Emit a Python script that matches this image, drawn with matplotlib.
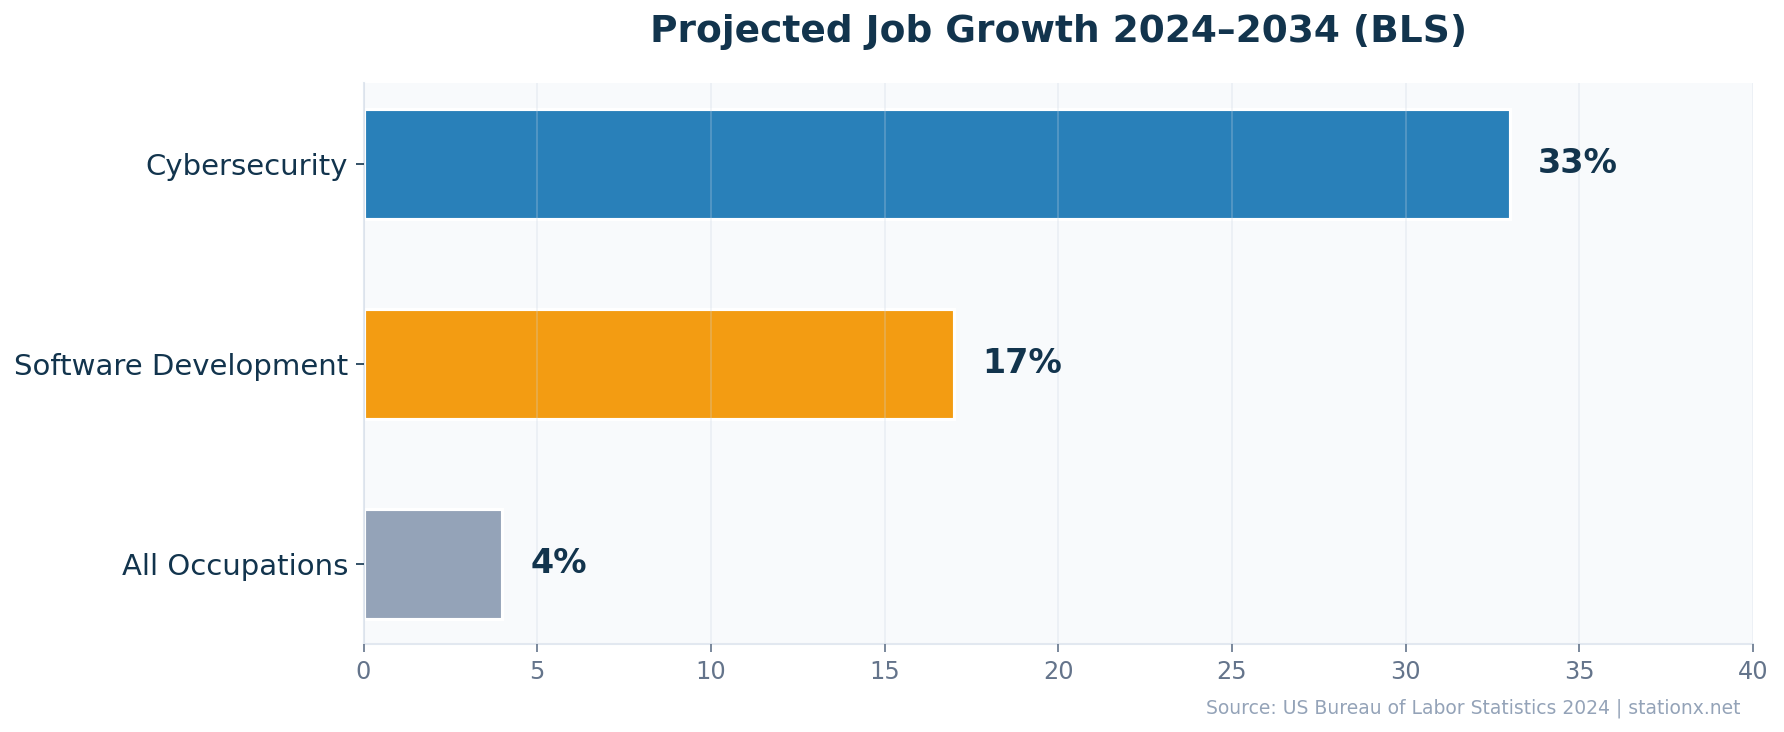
import matplotlib
matplotlib.use("Agg")
import matplotlib.pyplot as plt

categories = ["Cybersecurity", "Software Development", "All Occupations"]
growth = [33, 17, 4]
bar_colors = ["#2980b9", "#f39c12", "#94a3b8"]
value_labels = ["33%", "17%", "4%"]
x_ticks = [0, 5, 10, 15, 20, 25, 30, 35, 40]

plt.rcParams['font.family'] = ['DejaVu Sans']

fig = plt.figure(figsize=(1784/150, 732/150), dpi=150)
ax = fig.add_axes([363.5/1784, 1-644/732, (1753-363.5)/1784, (644-83.3)/732])
ax.set_facecolor("#f8fafc")

ypos = list(range(len(categories)))
ax.barh(ypos, growth, height=0.55, color=bar_colors, edgecolor="white", linewidth=1.5, zorder=2)
ax.invert_yaxis()
ax.set_yticks(ypos)
ax.set_yticklabels(categories, fontsize=14, color="#12344d")

for y, v, lab in zip(ypos, growth, value_labels):
    ax.text(v + 0.8, y, lab, va="center", ha="left", fontsize=16, fontweight="bold", color="#12344d", zorder=4)

ax.set_xlim(0, 40)
ax.set_xticks(x_ticks)
ax.tick_params(axis="x", labelsize=11.5, colors="#64748b", length=4)
ax.tick_params(axis="y", colors="#12344d", length=4)
for lab in ax.get_xticklabels():
    lab.set_color("#64748b")

ax.grid(axis="x", color="#cbd5e1", alpha=0.3, linewidth=0.8, zorder=3)
ax.set_axisbelow(False)
for s in ["top", "right"]:
    ax.spines[s].set_visible(False)
for s in ["left", "bottom"]:
    ax.spines[s].set_color("#e2e8f0")
    ax.spines[s].set_linewidth(1.0)

ax.set_title("Projected Job Growth 2024\u20132034 (BLS)", fontsize=18, fontweight="bold", color="#12344d", pad=20)

fig.text(1740/1784, 1-714/732, "Source: US Bureau of Labor Statistics 2024 | stationx.net",
         ha="right", va="baseline", fontsize=9, color="#94a3b8")

fig.savefig("out.png", dpi=150)
